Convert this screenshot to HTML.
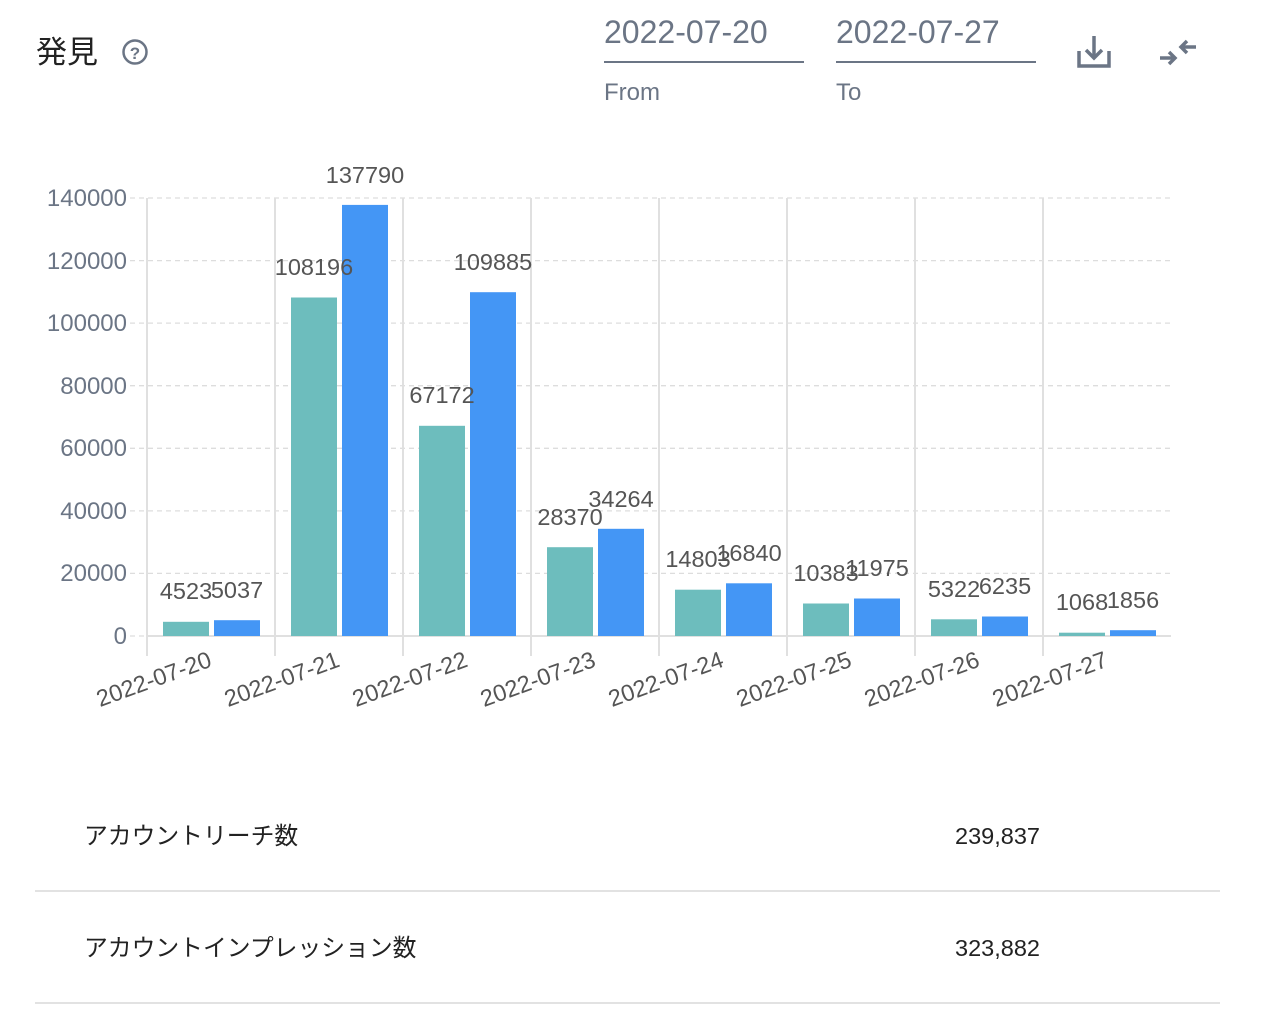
<!DOCTYPE html>
<html><head><meta charset="utf-8"><style>
html,body{margin:0;padding:0;background:#fff;width:1264px;height:1032px;overflow:hidden}
svg{display:block}
</style></head><body>
<svg width="1264" height="1032" xmlns="http://www.w3.org/2000/svg" font-family="'Liberation Sans','Noto Sans CJK JP',sans-serif">
<text x="36" y="63" font-size="31" fill="#222">発見</text>
<circle cx="135" cy="52" r="11.5" fill="none" stroke="#6b7585" stroke-width="2.5"/>
<text x="135" y="59" font-size="17" font-weight="bold" fill="#6b7585" text-anchor="middle">?</text>
<text x="604" y="43" font-size="32" fill="#6b7585">2022-07-20</text>
<text x="836" y="43" font-size="32" fill="#6b7585">2022-07-27</text>
<rect x="604" y="61" width="200" height="2" fill="#6b7585"/>
<rect x="836" y="61" width="200" height="2" fill="#6b7585"/>
<text x="604" y="100" font-size="24" fill="#6b7585">From</text>
<text x="836" y="100" font-size="24" fill="#6b7585">To</text>
<g fill="none" stroke="#6b7585" stroke-width="3.5">
<path d="M1079 51 V66 H1109 V51"/><path d="M1094 36 V58"/><path d="M1086 50 L1094 58 L1102 50"/>
<path d="M1160 58 H1174"/><path d="M1169 52 L1175 58 L1169 64"/>
<path d="M1196 47 H1182"/><path d="M1187 41 L1181 47 L1187 53"/>
</g>
<g stroke="#ddd" stroke-width="1.3" stroke-dasharray="5,4">
<line x1="130" y1="198" x2="1171" y2="198"/><line x1="130" y1="260.6" x2="1171" y2="260.6"/>
<line x1="130" y1="323.1" x2="1171" y2="323.1"/><line x1="130" y1="385.7" x2="1171" y2="385.7"/>
<line x1="130" y1="448.3" x2="1171" y2="448.3"/><line x1="130" y1="510.9" x2="1171" y2="510.9"/>
<line x1="130" y1="573.4" x2="1171" y2="573.4"/><line x1="130" y1="636" x2="147" y2="636"/>
</g>
<g stroke="#e0e0e0" stroke-width="2">
<line x1="147" y1="198" x2="147" y2="656"/><line x1="275" y1="198" x2="275" y2="656"/>
<line x1="403" y1="198" x2="403" y2="656"/><line x1="531" y1="198" x2="531" y2="656"/>
<line x1="659" y1="198" x2="659" y2="656"/><line x1="787" y1="198" x2="787" y2="656"/>
<line x1="915" y1="198" x2="915" y2="656"/><line x1="1043" y1="198" x2="1043" y2="656"/>
<line x1="147" y1="636" x2="1171" y2="636"/>
</g>
<g font-size="24" fill="#6b7585" text-anchor="end">
<text x="127" y="206">140000</text><text x="127" y="269">120000</text><text x="127" y="331">100000</text>
<text x="127" y="394">80000</text><text x="127" y="456">60000</text><text x="127" y="519">40000</text>
<text x="127" y="581">20000</text><text x="127" y="644">0</text>
</g>
<g fill="#6dbdbd">
<rect x="163" y="621.8" width="46" height="14.2"/><rect x="291" y="297.5" width="46" height="338.5"/>
<rect x="419" y="425.8" width="46" height="210.2"/><rect x="547" y="547.2" width="46" height="88.8"/>
<rect x="675" y="589.7" width="46" height="46.3"/><rect x="803" y="603.5" width="46" height="32.5"/>
<rect x="931" y="619.3" width="46" height="16.7"/><rect x="1059" y="632.7" width="46" height="3.3"/>
</g>
<g fill="#4496f5">
<rect x="214" y="620.2" width="46" height="15.8"/><rect x="342" y="204.9" width="46" height="431.1"/>
<rect x="470" y="292.2" width="46" height="343.8"/><rect x="598" y="528.8" width="46" height="107.2"/>
<rect x="726" y="583.3" width="46" height="52.7"/><rect x="854" y="598.5" width="46" height="37.5"/>
<rect x="982" y="616.5" width="46" height="19.5"/><rect x="1110" y="630.2" width="46" height="5.8"/>
</g>
<g font-size="23.5" fill="#555" text-anchor="middle">
<text x="186" y="599">4523</text><text x="237" y="598">5037</text>
<text x="314" y="275">108196</text><text x="365" y="183">137790</text>
<text x="442" y="403">67172</text><text x="493" y="270">109885</text>
<text x="570" y="525">28370</text><text x="621" y="507">34264</text>
<text x="698" y="567">14803</text><text x="749" y="561">16840</text>
<text x="826" y="581">10383</text><text x="877" y="576">11975</text>
<text x="954" y="597">5322</text><text x="1005" y="594">6235</text>
<text x="1082" y="610">1068</text><text x="1133" y="608">1856</text>
</g>
<g font-size="23.5" fill="#555" text-anchor="end">
<text transform="translate(213,666) rotate(-20)">2022-07-20</text>
<text transform="translate(341,666) rotate(-20)">2022-07-21</text>
<text transform="translate(469,666) rotate(-20)">2022-07-22</text>
<text transform="translate(597,666) rotate(-20)">2022-07-23</text>
<text transform="translate(725,666) rotate(-20)">2022-07-24</text>
<text transform="translate(853,666) rotate(-20)">2022-07-25</text>
<text transform="translate(981,666) rotate(-20)">2022-07-26</text>
<text transform="translate(1109,666) rotate(-20)">2022-07-27</text>
</g>
<text x="84" y="844" font-size="23.8" fill="#222">アカウントリーチ数</text>
<text x="1040" y="844" font-size="23.5" fill="#222" text-anchor="end">239,837</text>
<rect x="35" y="890" width="1185" height="2" fill="#e2e2e2"/>
<text x="84" y="956" font-size="23.8" fill="#222">アカウントインプレッション数</text>
<text x="1040" y="956" font-size="23.5" fill="#222" text-anchor="end">323,882</text>
<rect x="35" y="1002" width="1185" height="2" fill="#e2e2e2"/>
</svg>
</body></html>
